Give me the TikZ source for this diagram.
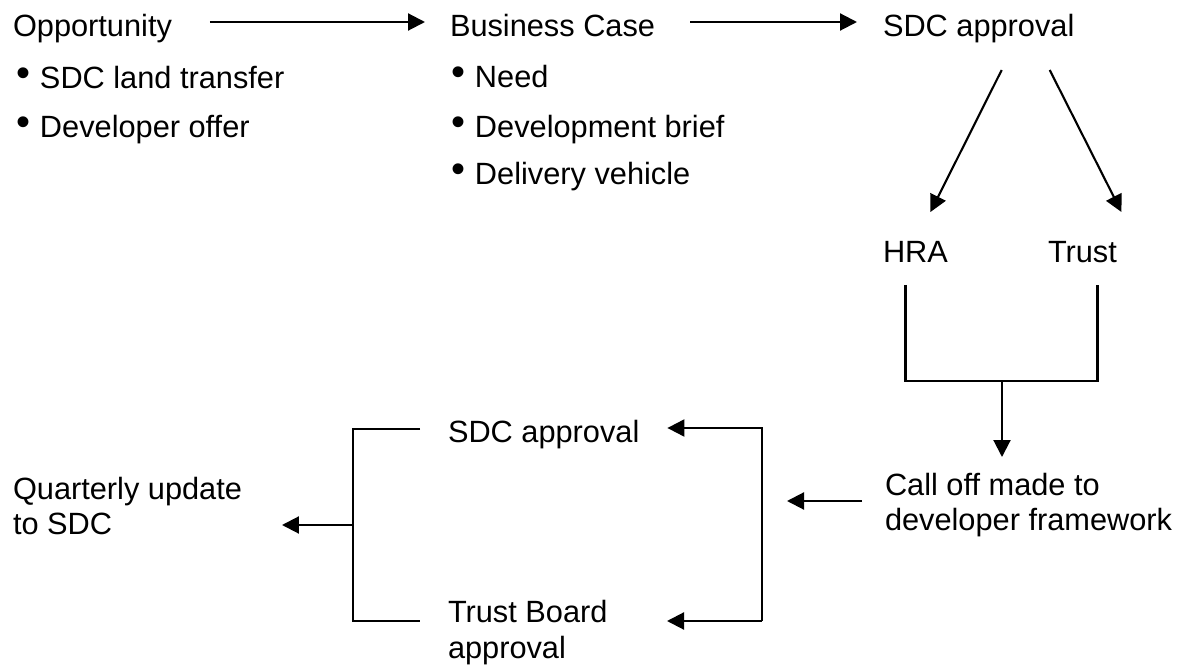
\documentclass[tikz,border=0pt]{standalone}
\usepackage{fontspec}
\setmainfont{Liberation Sans}
\usetikzlibrary{calc,arrows.meta}
\newcommand{\bul}{\makebox[0.48cm][l]{\raisebox{0.08em}{\scalebox{1.3}{•}}}}

\begin{document}
\begin{tikzpicture}[x=0.02cm,y=-0.02cm,
    txt/.style={inner sep=0pt,outer sep=0pt,anchor=base west,font=\fontsize{17.5}{20}\selectfont},
    one/.style={txt,text height=0.6cm,text depth=0pt},
    two/.style={txt,align=left},
    ln/.style={line width=1.2pt},
    arr/.style={ln,-{Triangle[length=0.34cm,width=0.34cm]}}]
\useasboundingbox (0,0) rectangle (1194,665);
%top row
\node[one] (opp) at (13,37) {Opportunity};
\node[one] (opp-a) at (16,89) {\bul SDC land transfer};
\node[one] (opp-b) at (16,138) {\bul Developer offer};
\node[one] (bc) at (450,37) {Business Case};
\node[one] (bc-a) at (451,88) {\bul Need};
\node[one] (bc-b) at (451,138) {\bul Development brief};
\node[one] (bc-c) at (451,185) {\bul Delivery vehicle};
\node[one] (sdc) at (883,37) {SDC approval};
%split
\node[one] (hra) at (883,263) {HRA};
\node[one] (trust) at (1048,263) {Trust};
%bottom row (base = last line)
\node[two] (calloff) at (885,531) {Call off made to\\developer framework};
\node[one] (sdcb) at (448,443) {SDC approval};
\node[two] (tba) at (448,658) {Trust Board\\approval};
\node[two] (qu) at (13,535) {Quarterly update\\to SDC};
%bracket points
\coordinate (jn) at (1002,381);
\coordinate (rb) at (762,621);
\coordinate (lb) at (353,525);

%top arrows
\draw[arr] ($(opp.east)+(38,0)$) -- ($(bc.west)+(-25,0)$);
\draw[arr] ($(bc.east)+(35,0)$) -- ($(sdc.west)+(-26,0)$);
\draw[arr] ($(sdc.south)+(23,33)$) -- ($(hra.north)+(15,-21)$);
\draw[arr] ($(sdc.south)+(71,33)$) -- ($(trust.north)+(39,-21)$);
%join hra and trust
\draw[ln] ($(hra.south)+(-10,22)$) |- (jn) -| ($(trust.south)+(15,22)$);
\draw[arr] (jn) -- ($(calloff.base west)+(117,-74)$);
%call off to approvals
\draw[arr] ($(calloff.base west)+(-23,-30)$) -- ($(calloff.base west)+(-98,-30)$);
\draw[arr] (rb) |- ($(sdcb.east)+(28,0)$);
\draw[arr] (rb) -- ($(tba.base west)+(219,-37)$);
%approvals to update
\draw[ln] ($(sdcb.west)+(-28,1)$) -| (lb) |- ($(tba.base west)+(-28,-37)$);
\draw[arr] (lb) -- ($(qu.base west)+(269,-10)$);
\end{tikzpicture}
\end{document}
